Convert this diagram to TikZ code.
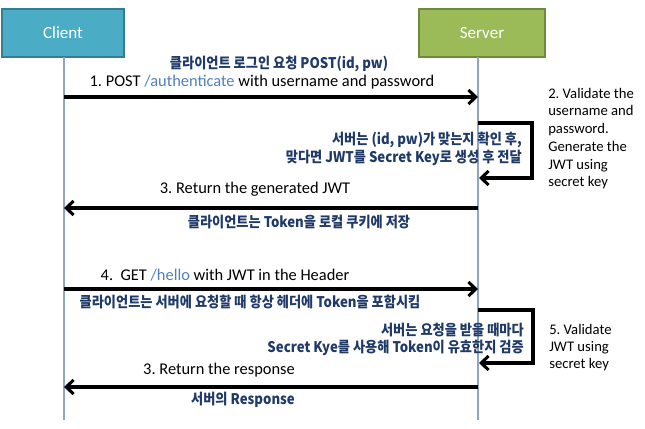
\documentclass[tikz,border=0pt]{standalone}
\usepackage{fontspec}
\setmainfont{Carlito}
\newfontfamily\krfont{Noto Sans CJK KR}[FakeStretch=0.9]
\usetikzlibrary{arrows.meta}
\definecolor{clientfill}{HTML}{4BACC6}
\definecolor{clientborder}{HTML}{357D91}
\definecolor{serverfill}{HTML}{9BBB59}
\definecolor{serverborder}{HTML}{71893F}
\definecolor{lifecol}{HTML}{8EA6C4}
\definecolor{navy}{HTML}{1F3A68}
\definecolor{pathcol}{HTML}{4F81BD}
\frenchspacing
\begin{document}
\begin{tikzpicture}[x=0.75pt,y=-0.75pt,
  actor/.style={draw, line width=1pt, text=white, inner sep=0pt,
    font=\fontsize{12.8}{15}\selectfont, minimum height=36pt},
  life/.style={draw=lifecol, line width=0.8pt},
  msg/.style={draw=black, line width=2.3pt,
    -{Straight Barb[length=5.5pt,width=10.5pt]}},
  lbl/.style={inner sep=0pt, font=\fontsize{12.3}{14}\selectfont},
  krtext/.style={inner sep=0pt, text=navy, font=\krfont\bfseries\fontsize{11}{13}\selectfont},
  note/.style={inner sep=0pt, anchor=west, text height=7pt, text depth=2pt,
    font=\fontsize{11}{13}\selectfont}
]
\useasboundingbox (0,0) rectangle (645,428);
\fill[white] (0,0) rectangle (645,428);

% actors
\node[actor, fill=clientfill, draw=clientborder, minimum width=91.5pt] (client) at (63,33) {Client};
\node[actor, fill=serverfill, draw=serverborder, minimum width=94.5pt] (server) at (482,33) {Server};

% lifelines
\coordinate (cTop) at (64,57);
\coordinate (cBot) at (64,420);
\coordinate (sTop) at (478,57);
\coordinate (sBot) at (478,420);
\draw[life] (cTop) -- (cBot);
\draw[life] (sTop) -- (sBot);

% message points
\coordinate (c1) at (64,97);   \coordinate (s1) at (478,97);
\coordinate (l1a) at (478,123); \coordinate (l1k) at (532,178); \coordinate (l1b) at (479,178);
\coordinate (s3) at (478,208); \coordinate (c3) at (64,208);
\coordinate (c4) at (64,289);  \coordinate (s4) at (478,289);
\coordinate (l2a) at (478,310); \coordinate (l2k) at (533,363); \coordinate (l2b) at (479,363);
\coordinate (s5) at (478,387); \coordinate (c5) at (64,387);

\draw[msg] (c1) -- (s1);
\draw[msg] (l1a) -| (l1k) -- (l1b);
\draw[msg] (s3) -- (c3);
\draw[msg] (c4) -- (s4);
\draw[msg] (l2a) -| (l2k) -- (l2b);
\draw[msg] (s5) -- (c5);

% labels
\node[krtext] (k0) at (279,64) {클라이언트 로그인 요청 POST(id, pw)};
\node[lbl] (t1) at (262,82) {1. POST \textcolor{pathcol}{/authenticate} with username and password};
\node[krtext, anchor=east] (k1a) at (522,140) {서버는 (id, pw)가 맞는지 확인 후,};
\node[krtext, anchor=east] (k1b) at (522,158) {맞다면 JWT를 Secret Key로 생성 후 전달};
\node[lbl] (t3) at (255,189) {3. Return the generated JWT};
\node[krtext] (k3) at (299,222) {클라이언트는 Token을 로컬 쿠키에 저장};
\node[lbl] (t4) at (225,275) {4.\ \ GET \textcolor{pathcol}{/hello} with JWT in the Header};
\node[krtext] (k4) at (250,302) {클라이언트는 서버에 요청할 때 항상 헤더에 Token을 포함시킴};
\node[krtext, anchor=east] (k5a) at (524,330) {서버는 요청을 받을 때마다};
\node[krtext, anchor=east] (k5b) at (524,348) {Secret Kye를 사용해 Token이 유효한지 검증};
\node[lbl] (t5) at (219,370) {3. Return the response};
\node[krtext] (k6) at (243,400) {서버의 Response};

% notes
\node[note] (n1a) at (548,95) {2. Validate the};
\node[note] (n1b) at (548,112.5) {username and};
\node[note] (n1c) at (548,130) {password.};
\node[note] (n1d) at (548,148) {Generate the};
\node[note] (n1e) at (548,166) {JWT using};
\node[note] (n1f) at (548,183) {secret key};
\node[note] (n2a) at (549,331) {5. Validate};
\node[note] (n2b) at (549,348) {JWT using};
\node[note] (n2c) at (549,365) {secret key};
\end{tikzpicture}
\end{document}
